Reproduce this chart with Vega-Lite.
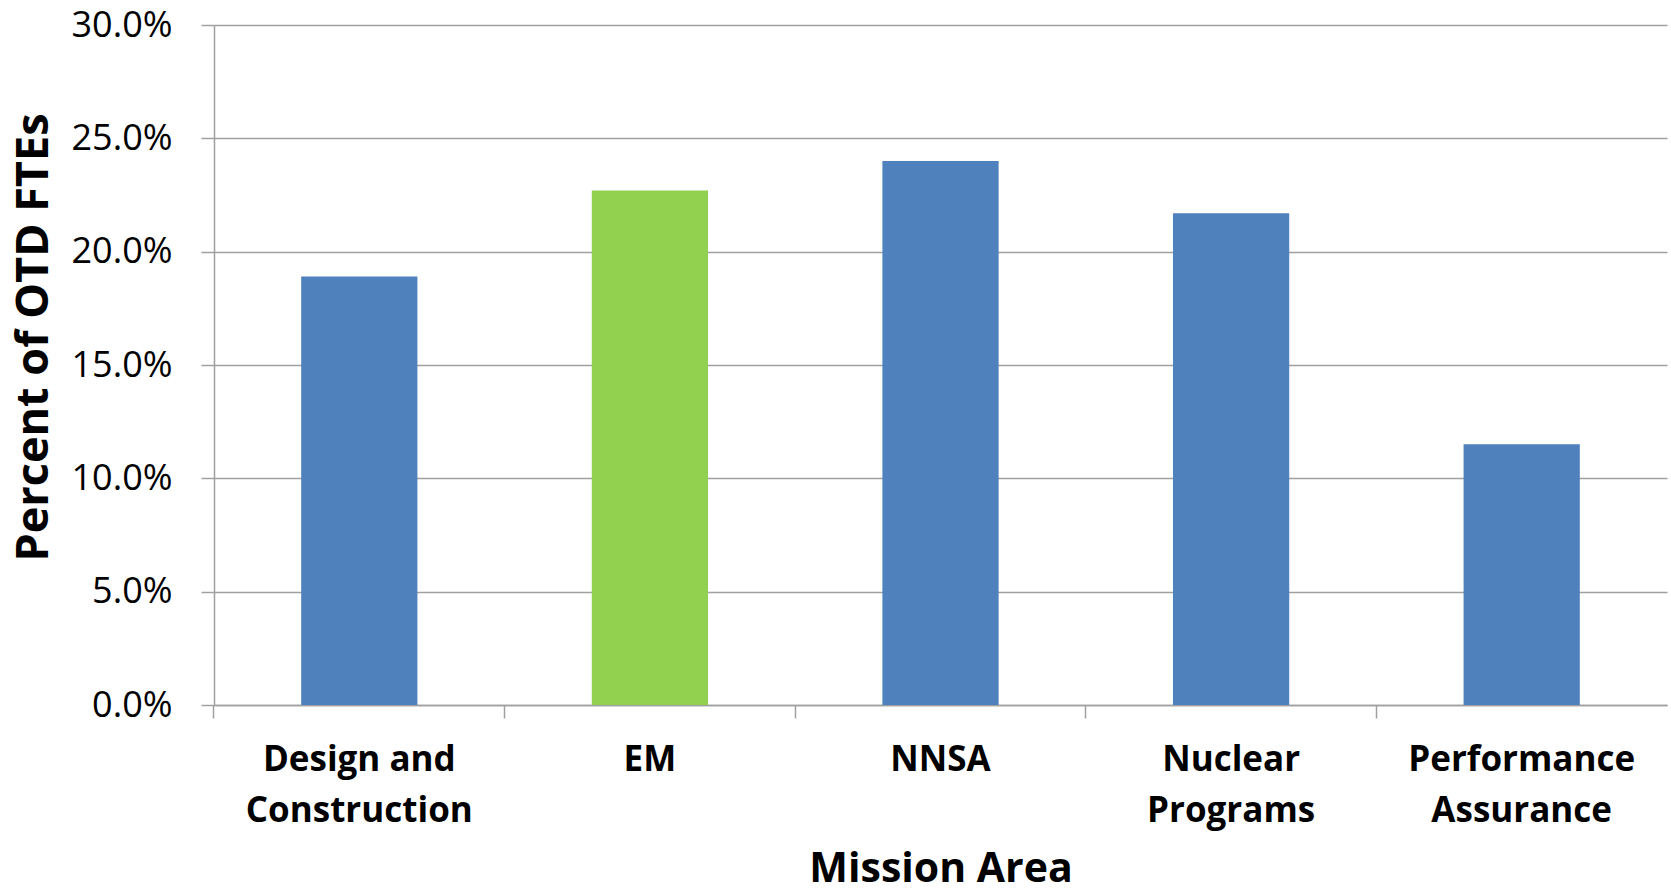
{
  "$schema": "https://vega.github.io/schema/vega-lite/v6.json",
  "width": 1453,
  "height": 680,
  "autosize": {"type": "none"},
  "padding": {"left": 214, "top": 25, "right": 4, "bottom": 188},
  "background": "white",
  "data": {
    "values": [
      {"area": "Design and Construction", "pct": 0.189, "group": "other"},
      {"area": "EM", "pct": 0.227, "group": "EM"},
      {"area": "NNSA", "pct": 0.240, "group": "other"},
      {"area": "Nuclear Programs", "pct": 0.217, "group": "other"},
      {"area": "Performance Assurance", "pct": 0.115, "group": "other"}
    ]
  },
  "config": {
    "view": {"stroke": null},
    "font": "Open Sans"
  },
  "mark": {"type": "bar"},
  "encoding": {
    "x": {
      "field": "area",
      "type": "nominal",
      "sort": null,
      "scale": {"paddingInner": 0.6, "paddingOuter": 0.3},
      "axis": {
        "title": "Mission Area",
        "titleFont": "Open Sans",
        "titleFontSize": 41,
        "titleFontWeight": "bold",
        "titleColor": "#000000",
        "titleBaseline": "alphabetic",
        "titleY": 176,
        "labelAngle": 0,
        "labelFont": "Open Sans",
        "labelFontSize": 35,
        "labelFontWeight": "bold",
        "labelColor": "#000000",
        "labelLineHeight": 51,
        "labelBaseline": "top",
        "labelPadding": 24,
        "labelExpr": "indexof(datum.value, ' ') > 0 ? [slice(datum.value, 0, lastindexof(datum.value, ' ')), slice(datum.value, lastindexof(datum.value, ' ') + 1)] : datum.value",
        "bandPosition": -0.75,
        "tickSize": 13,
        "tickColor": "#a0a0a0",
        "tickWidth": 1.5,
        "domainColor": "#a0a0a0",
        "domainWidth": 1.5,
        "labelLimit": 400
      }
    },
    "y": {
      "field": "pct",
      "type": "quantitative",
      "scale": {"domain": [0, 0.3], "nice": false},
      "axis": {
        "title": "Percent of OTD FTEs",
        "titleFont": "Open Sans",
        "titleFontSize": 45,
        "titleFontWeight": "bold",
        "titleColor": "#000000",
        "titleAngle": -90,
        "titleAlign": "center",
        "titleBaseline": "alphabetic",
        "titleX": -167,
        "titleY": 312,
        "values": [0, 0.05, 0.1, 0.15, 0.2, 0.25, 0.3],
        "format": ".1%",
        "labelFont": "Open Sans",
        "labelFontSize": 36,
        "labelColor": "#000000",
        "labelPadding": 29,
        "labelBaseline": "middle",
        "tickSize": 13,
        "tickColor": "#a0a0a0",
        "tickWidth": 1.5,
        "domainColor": "#a0a0a0",
        "domainWidth": 1.5,
        "grid": true,
        "gridColor": "#a0a0a0",
        "gridWidth": 1.5
      }
    },
    "color": {
      "field": "group",
      "type": "nominal",
      "scale": {"domain": ["other", "EM"], "range": ["#4F81BD", "#92D050"]},
      "legend": null
    }
  }
}
